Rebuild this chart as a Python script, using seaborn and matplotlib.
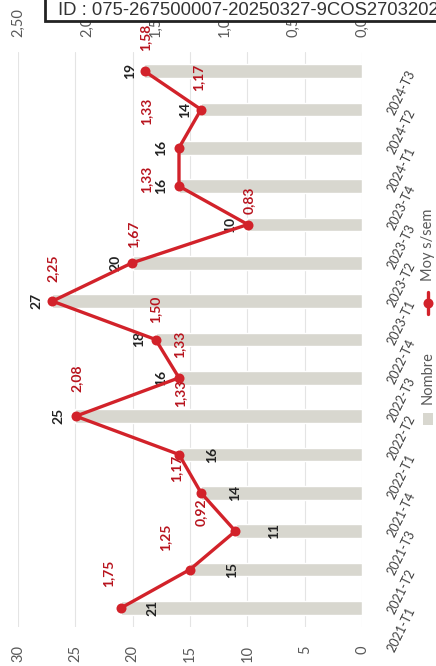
import numpy as np
import pandas as pd
import matplotlib
matplotlib.use('Agg')
import matplotlib.pyplot as plt
import seaborn as sns
from matplotlib.patches import Rectangle
from matplotlib.lines import Line2D
from matplotlib.ticker import FuncFormatter

periodes = ['2021-T1', '2021-T2', '2021-T3', '2021-T4',
            '2022-T1', '2022-T2', '2022-T3', '2022-T4',
            '2023-T1', '2023-T2', '2023-T3', '2023-T4',
            '2024-T1', '2024-T2', '2024-T3']
nombre = [21, 15, 11, 14, 16, 25, 16, 18, 27, 20, 10, 16, 16, 14, 19]
moy_sem = [1.75, 1.25, 0.92, 1.17, 1.33, 2.08, 1.33, 1.50, 2.25, 1.67, 0.83, 1.33, 1.33, 1.17, 1.58]

# decalage des etiquettes en pixels (x vers la droite, y vers le haut)
decal_nombre = [31, 42, 38, 34, 34, -17, -17, -17, -16, -17, -17, -17, -17, -16, -14]
decal_moy = [(-13, 34), (-25, 32), (-35, 19), (-25, 24), (1, 61), (1, 38), (0, 33), (0, 30),
             (0, 33), (1, 29), (1, 24), (-33, 7), (-33, 36), (-3, 32), (1, 34)]

GRIS = '#d8d7cf'
ROUGE = '#d2222a'
ROUGE_TXT = '#b8141e'
W, H = 436, 666
PT = 72 / 100

sns.set_style('white')
plt.rcParams['font.family'] = ['Lato', 'DejaVu Sans']

df = pd.DataFrame({'periode': periodes, 'pos': np.arange(len(periodes)),
                   'nombre': nombre, 'moy': moy_sem})

fig = plt.figure(figsize=(W / 100, H / 100), dpi=100)
ax = fig.add_axes([18 / W, (H - 627) / H, 344 / W, 575 / H])

sns.barplot(data=df, x='nombre', y='pos', orient='h', native_scale=True, width=0.35,
            color=GRIS, saturation=1, errorbar=None, ax=ax)
ax.set_xlim(30, 0)
ax.set_xticks(range(0, 31, 5))
ax.grid(axis='x', color='#e4e4e4', lw=0.8)
ax.set_axisbelow(True)
ax.set_xlabel('')
ax.set_ylabel('')
ax.tick_params(axis='x', length=0, pad=13, labelrotation=90, labelsize=10.5, labelcolor='#595959')

for i, v in enumerate(nombre):
    ax.annotate(str(v), xy=(v, i), xytext=(decal_nombre[i] * PT, 0), textcoords='offset points',
                rotation=90, ha='center', va='center', fontsize=10, fontweight='bold', color='#222222')

ax2 = ax.twiny()
sns.lineplot(data=df, x='moy', y='pos', orient='y', sort=False, estimator=None, ax=ax2,
             color=ROUGE, lw=2.4, marker='o', markersize=7.2, markeredgewidth=0)
ax2.set_xlim(2.5, 0)
ax2.set_xticks(np.arange(0, 2.51, 0.5))
ax2.xaxis.set_major_formatter(FuncFormatter(lambda v, p: f"{v:.2f}".replace('.', ',')))
ax2.set_xlabel('')
ax2.tick_params(axis='x', length=0, pad=11, labelrotation=90, labelsize=10.5, labelcolor='#595959')

for i, m in enumerate(moy_sem):
    dx, dy = decal_moy[i]
    ax2.annotate(f"{m:.2f}".replace('.', ','), xy=(m, i), xytext=(dx * PT, dy * PT),
                 textcoords='offset points', rotation=90, ha='center', va='center',
                 fontsize=10, fontweight='bold', color=ROUGE_TXT)

ax.set_ylim(-0.5, len(periodes) - 0.5)
ax.yaxis.tick_right()
ax.set_yticks(df['pos'])
ax.set_yticklabels(periodes)
ax.tick_params(axis='y', length=0, pad=36, labelsize=9, labelcolor='#404040')
for lab in ax.get_yticklabels():
    lab.set_rotation(64)
    lab.set_ha('right')
    lab.set_va('center')
    lab.set_rotation_mode('anchor')

for a in (ax, ax2):
    for s in a.spines.values():
        s.set_visible(False)

# legende
fig.add_artist(Rectangle((423 / W, 1 - 425 / H), 10 / W, 12 / H, transform=fig.transFigure,
                         fc=GRIS, ec='none'))
fig.text(428 / W, 1 - 378 / H, 'Nombre', rotation=90, ha='center', va='center',
         fontsize=10.5, color='#595959')
fig.add_artist(Line2D([428 / W] * 2, [1 - 314 / H, 1 - 292 / H], color=ROUGE, lw=2.4,
                      transform=fig.transFigure))
fig.add_artist(Line2D([428 / W], [1 - 303 / H], marker='o', ms=7.2, mew=0, color=ROUGE,
                      transform=fig.transFigure))
fig.text(428 / W, 1 - 245 / H, 'Moy s/sem', rotation=90, ha='center', va='center',
         fontsize=10.5, color='#595959')

# tampon
fig.add_artist(Rectangle((45 / W, 1 - 21 / H), 420 / W, 40 / H, transform=fig.transFigure,
                         fc='white', ec='#222222', lw=2, zorder=10))
fig.text(58 / W, 1 - 15 / H, 'ID : 075-267500007-20250327-9COS2703202', family='Liberation Sans',
         fontsize=13.3, va='baseline', color='#333333', zorder=11)

fig.savefig('out.png', dpi=100)
